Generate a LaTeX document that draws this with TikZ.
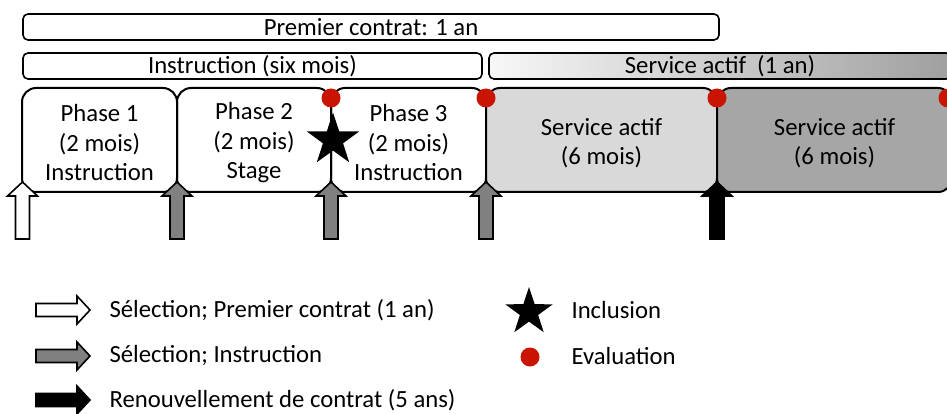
\documentclass[tikz,border=0pt]{standalone}
\usepackage{fontspec}
\setmainfont{Carlito}
\usepackage{xcolor}
\usepackage{tikz}
\usetikzlibrary{shapes.geometric, positioning, calc}
\definecolor{evalred}{RGB}{200, 20, 0}
\definecolor{arrowgray}{RGB}{128, 128, 128}
\definecolor{servlight}{RGB}{217, 217, 217}
\definecolor{servdark}{RGB}{166, 166, 166}

\tikzset{
  phasebox/.style={draw, line width=2pt, rounded corners=14pt, minimum height=104pt, inner sep=0pt, align=center},
  periodbar/.style={draw, line width=1.6pt, rounded corners=5pt, minimum height=26pt, inner sep=0pt},
  evaldot/.style={circle, fill=evalred, minimum size=19pt, inner sep=0pt},
  inclstar/.style={star, star points=5, star point ratio=2.6, fill=black, inner sep=0pt},
  legtext/.style={anchor=west}
}

% taller first line, so the box text sits a little lower
\newcommand{\firstln}{\rule{0pt}{23pt}}
% upward arrow under a phase boundary
\newcommand{\selup}[2]{%
  \filldraw[fill=#2, line width=1.6pt, line join=miter]
    (#1-7,239) -- (#1-7,196) -- (#1-15,196) -- (#1,182) -- (#1+15,196) -- (#1+7,196) -- (#1+7,239) -- cycle;}
% horizontal arrow of the legend
\newcommand{\legarrow}[2]{%
  \filldraw[fill=#2, line width=1.6pt, line join=miter]
    (36,#1-6.5) -- (77,#1-6.5) -- (77,#1-14) -- (90,#1) -- (77,#1+14) -- (77,#1+6.5) -- (36,#1+6.5) -- cycle;}

\begin{document}
\begin{tikzpicture}[x=1pt, y=-1pt, font=\fontsize{24.7}{29.5}\selectfont]
    \useasboundingbox (0,0) rectangle (947,414);
    \clip (0,0) rectangle (947,414);

    % Periods
    \node[periodbar, minimum width=696pt] (contrat) at (371,27) {Premier contrat: 1 an};
    \node[periodbar, minimum width=459pt] (instr) at (252.5,66) {Instruction (six mois)};
    \node[periodbar, minimum width=462pt, left color=gray!6, right color=gray!75] (service) at (720,66) {Service actif\ \ (1 an)};

    % Phases
    \node[phasebox, minimum width=155pt] (ph1) at (99.5,140) {\firstln Phase 1\\(2 mois)\\Instruction};
    \node[phasebox, minimum width=154pt] (ph2) at (254,140) {\firstln Phase 2\\(2 mois)\\Stage};
    \node[phasebox, minimum width=155pt] (ph3) at (408.5,140) {\firstln Phase 3\\(2 mois)\\Instruction};
    \node[phasebox, minimum width=231pt, fill=servlight] (sa1) at (601.5,140) {\firstln Service actif\\(6 mois)};
    \node[phasebox, minimum width=235pt, fill=servdark] (sa2) at (834.5,140) {\firstln Service actif\\(6 mois)};

    % Selection / renewal arrows
    \selup{22.5}{white}
    \foreach \x in {177,331,486} {\selup{\x}{arrowgray}}
    \selup{717}{black}

    % Evaluations and inclusion
    \node[evaldot] (ev1) at (331,98) {};
    \node[evaldot] (ev2) at (486,98) {};
    \node[evaldot] (ev3) at (717,98) {};
    \node[evaldot] (ev4) at (948,98) {};
    \node[inclstar, minimum size=55pt] (incl) at (333,140) {};

    % Legend
    \legarrow{310}{white}
    \legarrow{356}{arrowgray}
    \legarrow{400}{black}
    \node[legtext] (lg1) at (106,310) {Sélection; Premier contrat (1 an)};
    \node[legtext] (lg2) at (106,356) {Sélection; Instruction};
    \node[legtext] (lg3) at (106,400) {Renouvellement de contrat (5 ans)};
    \node[inclstar, minimum size=50pt] (lgstar) at (529,312) {};
    \node[evaldot] (lgdot) at (530,357) {};
    \node[legtext] (lg4) at (568,310) {Inclusion};
    \node[legtext] (lg5) at (568,356) {Evaluation};
\end{tikzpicture}
\end{document}
